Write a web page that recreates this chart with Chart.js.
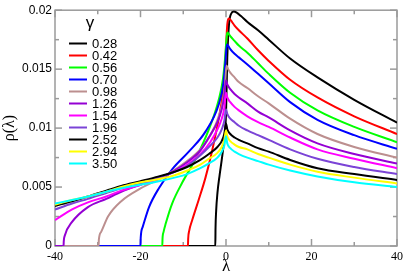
<!DOCTYPE html>
<html>
<head>
<meta charset="utf-8">
<script src="https://cdn.jsdelivr.net/npm/chart.js@4.4.1/dist/chart.umd.min.js"></script>
<style>
html,body{margin:0;padding:0;background:#fff;}
#c{display:block;}
</style>
</head>
<body>
<canvas id="c" width="407" height="277"></canvas>
<script>
// ---- data ----
const gammas = ['0.28','0.42','0.56','0.70','0.98','1.26','1.54','1.96','2.52','2.94','3.50'];

const lam_028 = [-40,-2.5,-2.45,-2.3,-2.0,-1.5,-1.0,-0.5,0,0.3,0.7,1.2,1.8,2.5,3.5,5,7.5,10,15,21.4,30,40];
const rho_028 = [0,0,0.0015,0.0030,0.0045,0.0060,0.0073,0.0088,0.0112,0.0160,0.0188,0.0197,0.0199,0.0198,0.0195,0.0190,0.0183,0.0175,0.0159,0.0143,0.0124,0.01046];

const lam_042 = [-40,-8.9,-8.85,-8.6,-7.9,-6.4,-4.8,-3.3,-1.7,-0.8,-0.3,0,0.3,0.6,1,2,3,5,7.5,10,15,21.4,30,40];
const rho_042 = [0,0,0.0006,0.0013,0.0022,0.0039,0.0058,0.0080,0.0108,0.0128,0.0148,0.0168,0.0188,0.0193,0.0192,0.0187,0.0183,0.0176,0.0166,0.0157,0.0141,0.0126,0.0110,0.0095];

const lam_056 = [-40,-14.9,-14.85,-14.6,-14.1,-12.6,-10.2,-7.1,-4.1,-1.7,-0.7,-0.2,0.1,0.3,0.6,1,2,3,5,7.5,10,15,21.4,30,40];
const rho_056 = [0,0,0.0006,0.0012,0.0019,0.0036,0.0054,0.0074,0.0098,0.0124,0.0142,0.0160,0.0175,0.0181,0.0180,0.0178,0.0174,0.0170,0.0164,0.0155,0.0146,0.0130,0.0115,0.0101,0.0088];

const lam_070 = [-40,-20,-19.95,-19.5,-18,-15.7,-12.6,-8.7,-4.8,-1.7,-0.6,-0.1,0.2,0.5,1,2,3,5,7.5,10,15,21.4,30,40];
const rho_070 = [0,0,0.0007,0.0016,0.0033,0.0049,0.0065,0.0080,0.0097,0.0120,0.0138,0.0158,0.0171,0.0170,0.0167,0.0163,0.0160,0.0154,0.0146,0.0138,0.0122,0.0107,0.0094,0.00824];

const lam_098 = [-40,-29.8,-29.75,-29.2,-27.6,-24.5,-19.9,-14.5,-9.1,-6,-4.5,-2.1,-0.8,-0.2,0.1,0.5,1,2,3,5,7.5,10,15,21.4,30,40];
const rho_098 = [0,0,0.0005,0.0012,0.0025,0.0038,0.0049,0.0059,0.0072,0.0082,0.0089,0.0106,0.0122,0.0138,0.0153,0.0150,0.0147,0.0143,0.0139,0.0134,0.0127,0.0121,0.0108,0.0095,0.0084,0.0075];

const lam_126 = [-40,-38,-37.95,-37.7,-36.1,-32.3,-28,-24.5,-20,-16.8,-12,-9.1,-6,-3.7,-2,-1,-0.4,0,0.3,1,2,3,5,7.5,10,15,21.4,30,40];
const rho_126 = [0,0,0.0004,0.0009,0.0020,0.0033,0.0040,0.0046,0.0052,0.0056,0.0064,0.0071,0.0081,0.0094,0.0105,0.0116,0.0127,0.01405,0.0137,0.0133,0.0129,0.0126,0.0121,0.0114,0.0109,0.0098,0.0087,0.0078,0.0070];

const lam_154 = [-40,-36,-32.3,-28,-24.5,-20,-16.8,-12,-9.1,-6,-3.7,-2,-1,-0.4,0,0.3,1,2,3,5,7.5,10,15,21.4,30,40];
const rho_154 = [0.0022,0.0031,0.0037,0.0042,0.0047,0.0052,0.0056,0.0063,0.0069,0.0078,0.0088,0.0099,0.0108,0.0117,0.0130,0.0126,0.0122,0.0118,0.0115,0.0110,0.0105,0.0101,0.0092,0.0082,0.0074,0.0066];

const lam_196 = [-40,-36,-32.3,-28,-24.5,-20,-16.8,-12,-9.1,-6,-4,-2,-1,-0.4,0,0.3,1,2,3,5,7.5,10,15,21.4,30,40];
const rho_196 = [0.0031,0.0036,0.0040,0.0045,0.0049,0.0053,0.0057,0.0063,0.0068,0.0077,0.0084,0.0092,0.0099,0.0106,0.0116,0.0112,0.0108,0.0105,0.0102,0.0098,0.0094,0.0090,0.0082,0.0074,0.0067,0.0061];

const lam_252 = [-40,-36,-32.3,-28,-24.5,-20,-16.8,-12,-9.1,-6,-4,-2,-1,-0.4,0,0.3,1,2,3,5,7.5,10,15,21.4,30,40];
const rho_252 = [0.0034,0.0038,0.0042,0.0047,0.0051,0.0055,0.0058,0.0063,0.0067,0.0073,0.0078,0.0084,0.0089,0.0095,0.0104,0.0099,0.0095,0.0092,0.0090,0.0087,0.0083,0.0080,0.0073,0.0066,0.0061,0.0056];

const lam_294 = [-40,-36,-32.3,-28,-24.5,-20,-16.8,-12,-9.1,-6,-4,-2,-1,-0.4,0,0.3,1,2,3,5,7.5,10,15,21.4,30,40];
const rho_294 = [0.0035,0.0039,0.0042,0.0046,0.0050,0.0054,0.0056,0.0060,0.0064,0.0069,0.0074,0.0079,0.0084,0.0090,0.0098,0.0093,0.0089,0.0086,0.0084,0.0082,0.0078,0.0075,0.0069,0.0063,0.0058,0.0053];

const lam_350 = [-40,-36,-32.3,-28,-24.5,-20,-16.8,-12,-9.1,-6,-4,-2,-1,-0.4,0,0.3,1,2,3,5,7.5,10,15,21.4,30,40];
const rho_350 = [0.0036,0.0039,0.0042,0.0046,0.0049,0.0052,0.0054,0.0058,0.0061,0.0066,0.0070,0.0075,0.0080,0.0085,0.0093,0.0087,0.0083,0.0080,0.0078,0.0075,0.0072,0.0069,0.0064,0.0059,0.0054,0.0050];

const xTicks = [-40,-20,0,20,40];
const xTickLabels = ['-40','-20','0','20','40'];
const xMinor = [-30,-10,10,30];
const yTicks = [0,0.005,0.01,0.015,0.02];
const yTickLabels = ['0','0.005','0.01','0.015','0.02'];
const yMinor = [0.0025,0.0075,0.0125,0.0175];

// ---- styles ----
const lams = [lam_028,lam_042,lam_056,lam_070,lam_098,lam_126,lam_154,lam_196,lam_252,lam_294,lam_350];
const rhos = [rho_028,rho_042,rho_056,rho_070,rho_098,rho_126,rho_154,rho_196,rho_252,rho_294,rho_350];
const colors = ['#000000','#ff0000','#00ff00','#0000ff','#bc8f8f','#9400d3','#ff00ff','#7b44d6','#000000','#ffff00','#00ffff'];

const datasets = gammas.map((g,i)=>({
  label: g,
  data: lams[i].map((x,k)=>({x:x, y:rhos[i][k]})),
  borderColor: colors[i],
  backgroundColor: colors[i],
  borderWidth: 2,
  pointRadius: 0,
  showLine: true,
  fill: false,
  cubicInterpolationMode: 'monotone',
  order: gammas.length - i
}));

const framePlugin = {
  id: 'frame',
  beforeDatasetsDraw(chart){
    const {ctx, chartArea:a, scales} = chart;
    const x = scales.x, y = scales.y;
    ctx.save();
    ctx.strokeStyle = '#9a9a9a';
    ctx.lineWidth = 1.5;
    ctx.strokeRect(a.left, a.top, a.right - a.left, a.bottom - a.top);
    const seg = (x1,y1,x2,y2)=>{ctx.beginPath();ctx.moveTo(x1,y1);ctx.lineTo(x2,y2);ctx.stroke();};
    xTicks.forEach(v=>{const p=x.getPixelForValue(v); seg(p,a.bottom,p,a.bottom-7); seg(p,a.top,p,a.top+7);});
    xMinor.forEach(v=>{const p=x.getPixelForValue(v); seg(p,a.bottom,p,a.bottom-4); seg(p,a.top,p,a.top+4);});
    yTicks.forEach(v=>{const p=y.getPixelForValue(v); seg(a.left,p,a.left+7,p); seg(a.right,p,a.right-7,p);});
    yMinor.forEach(v=>{const p=y.getPixelForValue(v); seg(a.left,p,a.left+4,p); seg(a.right,p,a.right-4,p);});
    ctx.restore();
  }
};

const legendPlugin = {
  id: 'gammaLegend',
  afterDatasetsDraw(chart){
    const ctx = chart.ctx;
    ctx.save();
    ctx.fillStyle = '#000';
    ctx.textAlign = 'center';
    ctx.textBaseline = 'alphabetic';
    ctx.font = '17px "Liberation Sans", Arial, sans-serif';
    ctx.fillText('γ', 90, 28);
    ctx.font = '13px "Liberation Sans", Arial, sans-serif';
    ctx.textAlign = 'left';
    ctx.textBaseline = 'middle';
    gammas.forEach((g,i)=>{
      const yy = 43.5 + i*12;
      ctx.strokeStyle = colors[i];
      ctx.lineWidth = 2;
      ctx.beginPath(); ctx.moveTo(69,yy); ctx.lineTo(87,yy); ctx.stroke();
      ctx.fillStyle = '#000';
      ctx.fillText(g, 92, yy+0.5);
    });
    ctx.restore();
  }
};

new Chart(document.getElementById('c'), {
  type: 'scatter',
  data: { datasets },
  options: {
    responsive: false,
    animation: false,
    devicePixelRatio: 1,
    layout: { padding: { top: 5, right: 7, left: 0, bottom: 0 } },
    plugins: { legend: { display: false }, tooltip: { enabled: false } },
    scales: {
      x: {
        type: 'linear', min: -40, max: 40,
        afterBuildTicks: s => { s.ticks = xTicks.map(v=>({value:v})); },
        afterFit: s => { s.height = 31; },
        ticks: {
          callback: (v, i) => xTickLabels[i],
          font: { family: '"Liberation Serif", "Times New Roman", serif', size: 12 },
          color: '#000', padding: 4, maxRotation: 0, autoSkip: false
        },
        grid: { display: false, drawTicks: false },
        border: { display: false },
        title: { display: true, text: 'λ', color: '#000', padding: 0,
                 font: { family: '"Liberation Serif", "Times New Roman", serif', size: 17 } }
      },
      y: {
        type: 'linear', min: 0, max: 0.02,
        afterBuildTicks: s => { s.ticks = yTicks.map(v=>({value:v})); },
        afterFit: s => { s.width = 55; },
        ticks: {
          callback: (v, i) => yTickLabels[i],
          font: { family: '"Liberation Sans", Arial, sans-serif', size: 12 },
          color: '#000', padding: 3, autoSkip: false
        },
        grid: { display: false, drawTicks: false },
        border: { display: false },
        title: { display: true, text: 'ρ(λ)', color: '#000', padding: 0,
                 font: { family: '"Liberation Serif", "Times New Roman", serif', size: 16 } }
      }
    }
  },
  plugins: [framePlugin, legendPlugin]
});
</script>
</body>
</html>
